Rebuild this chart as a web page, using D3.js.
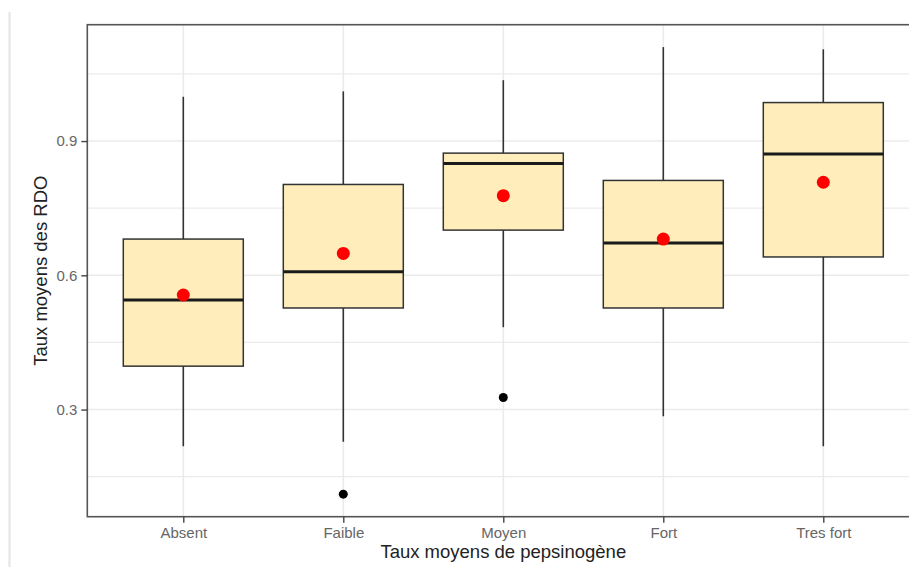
<!DOCTYPE html>
<html>
<head>
<meta charset="utf-8">
<script src="https://cdn.jsdelivr.net/npm/d3@7"></script>
<style>
body { margin: 0; background: #fff; }
svg { display: block; font-family: "Liberation Sans", Arial, sans-serif; }
</style>
</head>
<body>
<div id="chart"></div>
<script>
// box statistics
var categories = ["Absent", "Faible", "Moyen", "Fort", "Tres fort"];
var whiskerHigh = [0.999, 1.011, 1.036, 1.110, 1.105];
var q3 = [0.681, 0.803, 0.873, 0.812, 0.986];
var medians = [0.545, 0.608, 0.850, 0.672, 0.871];
var q1 = [0.397, 0.527, 0.701, 0.527, 0.641];
var whiskerLow = [0.218, 0.228, 0.484, 0.285, 0.218];
var means = [0.556, 0.649, 0.778, 0.681, 0.808];
var outlierCat = ["Faible", "Moyen"];
var outlierVal = [0.111, 0.327];
var yTicks = [0.3, 0.6, 0.9];
var yMinor = [0.15, 0.45, 0.75, 1.05];

var width = 909, height = 567;
var pLeft = 87.3, pRight = 919.3, pTop = 24.7, pBottom = 516.7;

var svg = d3.select("#chart").append("svg")
    .attr("width", width)
    .attr("height", height);

// faint line at the left edge of the screenshot
svg.append("line")
    .attr("x1", 9.5).attr("x2", 9.5)
    .attr("y1", 12).attr("y2", height)
    .attr("stroke", "#e4e4e4")
    .attr("stroke-width", 2);

var x = d3.scalePoint()
    .domain(categories)
    .range([pLeft, pRight])
    .padding(0.6);

var y = d3.scaleLinear()
    .domain([0.0606, 1.16])
    .range([pBottom, pTop]);

var boxW = x.step() * 0.75;

var panel = svg.append("g");

// grid
panel.selectAll(".minor")
    .data(yMinor)
    .enter().append("line")
    .attr("x1", pLeft).attr("x2", pRight)
    .attr("y1", function (d) { return y(d); })
    .attr("y2", function (d) { return y(d); })
    .attr("stroke", "#ebebeb")
    .attr("stroke-width", 1.2);

panel.selectAll(".major")
    .data(yTicks)
    .enter().append("line")
    .attr("x1", pLeft).attr("x2", pRight)
    .attr("y1", function (d) { return y(d); })
    .attr("y2", function (d) { return y(d); })
    .attr("stroke", "#ebebeb")
    .attr("stroke-width", 1.6);

panel.selectAll(".vgrid")
    .data(categories)
    .enter().append("line")
    .attr("x1", function (d) { return x(d); })
    .attr("x2", function (d) { return x(d); })
    .attr("y1", pTop).attr("y2", pBottom)
    .attr("stroke", "#ebebeb")
    .attr("stroke-width", 1.6);

// boxes
var boxes = panel.selectAll(".box")
    .data(categories)
    .enter().append("g");

boxes.append("line")
    .attr("x1", function (d) { return x(d); })
    .attr("x2", function (d) { return x(d); })
    .attr("y1", function (d, i) { return y(whiskerHigh[i]); })
    .attr("y2", function (d, i) { return y(q3[i]); })
    .attr("stroke", "#333")
    .attr("stroke-width", 1.6);

boxes.append("line")
    .attr("x1", function (d) { return x(d); })
    .attr("x2", function (d) { return x(d); })
    .attr("y1", function (d, i) { return y(q1[i]); })
    .attr("y2", function (d, i) { return y(whiskerLow[i]); })
    .attr("stroke", "#333")
    .attr("stroke-width", 1.6);

boxes.append("rect")
    .attr("x", function (d) { return x(d) - boxW / 2; })
    .attr("width", boxW)
    .attr("y", function (d, i) { return y(q3[i]); })
    .attr("height", function (d, i) { return y(q1[i]) - y(q3[i]); })
    .attr("fill", "#ffeebb")
    .attr("stroke", "#333")
    .attr("stroke-width", 1.5);

boxes.append("line")
    .attr("x1", function (d) { return x(d) - boxW / 2; })
    .attr("x2", function (d) { return x(d) + boxW / 2; })
    .attr("y1", function (d, i) { return y(medians[i]); })
    .attr("y2", function (d, i) { return y(medians[i]); })
    .attr("stroke", "#1a1a1a")
    .attr("stroke-width", 3);

// outliers
panel.selectAll(".outlier")
    .data(outlierVal)
    .enter().append("circle")
    .attr("cx", function (d, i) { return x(outlierCat[i]); })
    .attr("cy", function (d) { return y(d); })
    .attr("r", 4.5)
    .attr("fill", "#000");

// means
panel.selectAll(".mean")
    .data(means)
    .enter().append("circle")
    .attr("cx", function (d, i) { return x(categories[i]); })
    .attr("cy", function (d) { return y(d); })
    .attr("r", 6.5)
    .attr("fill", "#ff0000");

// panel border
svg.append("rect")
    .attr("x", pLeft).attr("y", pTop)
    .attr("width", pRight - pLeft)
    .attr("height", pBottom - pTop)
    .attr("fill", "none")
    .attr("stroke", "#555")
    .attr("stroke-width", 1.6);

// axes
var yAxis = d3.axisLeft(y)
    .tickValues(yTicks)
    .tickFormat(d3.format(".1f"))
    .tickSize(6)
    .tickPadding(4);

var gy = svg.append("g")
    .attr("transform", "translate(" + pLeft + ",0)")
    .call(yAxis);

var xAxis = d3.axisBottom(x)
    .tickSize(6)
    .tickPadding(5);

var gx = svg.append("g")
    .attr("transform", "translate(0," + pBottom + ")")
    .call(xAxis);

[gx, gy].forEach(function (g) {
    g.select(".domain").remove();
    g.selectAll(".tick line").attr("stroke", "#444").attr("stroke-width", 1.4);
    g.selectAll(".tick text")
        .attr("fill", "#666")
        .style("font-size", "15px")
        .style("font-family", "Liberation Sans, Arial, sans-serif");
});

// titles
svg.append("text")
    .attr("x", (pLeft + pRight) / 2)
    .attr("y", 558)
    .attr("text-anchor", "middle")
    .attr("fill", "#222")
    .style("font-size", "18.5px")
    .text("Taux moyens de pepsinogène");

svg.append("text")
    .attr("transform", "translate(47," + ((pTop + pBottom) / 2) + ") rotate(-90)")
    .attr("text-anchor", "middle")
    .attr("fill", "#222")
    .style("font-size", "18.5px")
    .text("Taux moyens des RDO");
</script>
</body>
</html>
